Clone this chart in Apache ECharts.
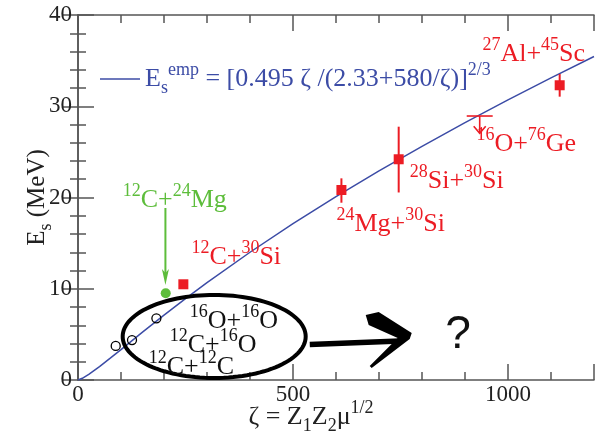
<!DOCTYPE html>
<html>
<head>
<meta charset="utf-8">
<script src="https://cdn.jsdelivr.net/npm/echarts@6/dist/echarts.min.js"></script>
<style>
  html, body { margin: 0; padding: 0; background: #fff; }
  #chart { width: 605px; height: 435px; }
</style>
</head>
<body>
<div id="chart"></div>
<script>
// Empirical barrier curve E_s^emp sampled along zeta
const curveZeta = [0, 10, 25, 50, 75, 100, 125, 150, 200, 250, 300, 400, 500, 600, 700, 800, 900, 1000, 1100, 1200];
const curveEs   = [0, 0.19, 0.62, 1.47, 2.39, 3.33, 4.29, 5.24, 7.10, 8.91, 10.67, 14.00, 17.13, 20.09, 22.92, 25.61, 28.20, 30.70, 33.11, 35.45];

// Light systems (open circles): 12C+12C, 12C+16O, 16O+16O
const lightZeta = [87.7, 125.6, 182.3];
const lightEs   = [3.73, 4.38, 6.76];

// 12C+24Mg (green dot)
const mgZeta = [204];
const mgEs   = [9.5];

// Systems with measured maxima (red squares) and their error bars
const redZeta = [245, 612.6, 745.8, 1120.2];
const redEs   = [10.49, 20.82, 24.19, 32.3];
const redLow  = [null, 19.43, 20.55, 31.05];
const redHigh = [null, 22.10, 27.76, 33.53];

// 16O+76Ge upper limit
const limitZeta = [934.2];
const limitEs   = [28.93];
const limitTip  = [27.03];
const limitHalfWidth = [30.2];

// Green arrow pointing at 12C+24Mg
const greenArrowZeta = [203.3];
const greenArrowFrom = [18.85];
const greenArrowTo   = [10.41];

// Ellipse around the light systems and the arrow leading to "?"
const ellipseCenter = [316.7, 4.77];
const ellipseRadius = [212.8, 4.55];
const shaftZeta = [539, 748];
const shaftEs   = [3.89, 4.27];
const headZeta  = [669.1, 699.3, 776.1, 771.4, 683.0, 678.4, 743.5, 676.0];
const headEs    = [7.12, 7.45, 5.15, 4.49, 1.32, 1.53, 4.60, 6.03];

// Reaction labels (^{..} superscript, _{..} subscript)
const annotationText  = ['^{27}Al+^{45}Sc', '^{16}O+^{76}Ge', '^{28}Si+^{30}Si', '^{24}Mg+^{30}Si', '^{12}C+^{30}Si',
                         '^{12}C+^{24}Mg', '^{16}O+^{16}O', '^{12}C+^{16}O', '^{12}C+^{12}C'];
const annotationZeta  = [940.5, 926.5, 771.4, 601, 263.7, 104, 259.8, 213.3, 164.4];
const annotationEs    = [35.70, 25.84, 21.82, 17.07, 13.46, 19.70, 6.44, 3.85, 1.43];
const annotationGroup = ['red', 'red', 'red', 'red', 'red', 'green', 'black', 'black', 'black'];
const questionZeta = [883.7];
const questionEs   = [4.93];

const legendText = 'E_{s}^{emp} = [0.495 ζ /(2.33+580/ζ)]^{2/3}';
const xTitle = 'ζ = Z_{1}Z_{2}μ^{1/2}';
const yTitle = 'E_{s} (MeV)';

const xMajor = 500, xMinor = 100, xMax = 1200;
const yMajor = 10, yMax = 40;

const BLUE = '#3c4ca6', RED = '#ec1c24', GREEN = '#5dbd3b', INK = '#111';
const SERIF = 'Liberation Serif';
const groupColor = { red: RED, green: GREEN, black: INK };

function toRich(s) {
  const out = [];
  const re = /([\^_])\{([^}]*)\}|([^\^_]+)/g;
  let m;
  while ((m = re.exec(s))) {
    if (m[1] === '^') out.push('{sup|' + m[2] + '}');
    else if (m[1] === '_') out.push('{sub|' + m[2] + '}');
    else out.push('{n|' + m[3] + '}');
  }
  return out.join('');
}

function richStyles(main) {
  return {
    n:   { fontFamily: SERIF, fontSize: main, lineHeight: 36 },
    sup: { fontFamily: SERIF, fontSize: 18, lineHeight: 10, verticalAlign: 'top' },
    sub: { fontFamily: SERIF, fontSize: 18, lineHeight: 10, verticalAlign: 'top', padding: [18, 0, 0, 0] }
  };
}

const axisLineStyle = { color: '#555', width: 1.5 };
const baseX = { type: 'value', min: 0, max: xMax, gridIndex: 0, splitLine: { show: false } };
const baseY = { type: 'value', min: 0, max: yMax, interval: yMajor, gridIndex: 0, splitLine: { show: false } };

const chart = echarts.init(document.getElementById('chart'), null, { renderer: 'canvas' });

chart.setOption({
  animation: false,
  backgroundColor: '#fff',
  grid: { left: 78, right: 11, top: 15, bottom: 55, containLabel: false, outerBoundsMode: 'none' },
  legend: {
    data: ['fit'], left: 100, top: 61, padding: 0, selectedMode: false,
    icon: 'rect', itemWidth: 40, itemHeight: 1.5,
    itemStyle: { color: BLUE },
    formatter: () => toRich(legendText),
    textStyle: { color: BLUE, rich: richStyles(26) }
  },
  xAxis: [
    Object.assign({}, baseX, {
      position: 'bottom', interval: xMajor,
      axisLine: { show: true, lineStyle: axisLineStyle },
      axisTick: { show: true, inside: true, length: 16, lineStyle: axisLineStyle },
      axisLabel: { show: true, interval: 0, margin: 3, color: '#222', fontFamily: SERIF, fontSize: 23,
                   formatter: v => (v % xMajor === 0 ? String(v) : '') },
      name: toRich(xTitle), nameLocation: 'middle', nameGap: 19, nameMoveOverlap: false,
      nameTextStyle: { color: '#222', padding: [0, 50, 0, 0], rich: richStyles(26) }
    }),
    Object.assign({}, baseX, {
      position: 'bottom', interval: xMinor,
      axisLine: { show: false },
      axisTick: { show: true, inside: true, length: 8, lineStyle: axisLineStyle },
      axisLabel: { show: false }
    }),
    Object.assign({}, baseX, {
      position: 'top', interval: xMajor,
      axisLine: { show: true, lineStyle: axisLineStyle },
      axisTick: { show: true, inside: true, length: 16, lineStyle: axisLineStyle },
      axisLabel: { show: false }
    }),
    Object.assign({}, baseX, {
      position: 'top', interval: xMinor,
      axisLine: { show: false },
      axisTick: { show: true, inside: true, length: 8, lineStyle: axisLineStyle },
      axisLabel: { show: false }
    })
  ],
  yAxis: [
    Object.assign({}, baseY, {
      position: 'left',
      axisLine: { show: true, lineStyle: axisLineStyle },
      axisTick: { show: true, inside: true, length: 16, lineStyle: axisLineStyle },
      minorTick: { show: true, splitNumber: 5, length: 8, lineStyle: axisLineStyle },
      axisLabel: { show: true, margin: 6, color: '#222', fontFamily: SERIF, fontSize: 23 },
      name: toRich(yTitle), nameLocation: 'middle', nameGap: 23, nameRotate: 90, nameMoveOverlap: false,
      nameTextStyle: { color: '#222', rich: richStyles(25) }
    }),
    Object.assign({}, baseY, {
      position: 'right',
      axisLine: { show: true, lineStyle: axisLineStyle },
      axisTick: { show: true, inside: true, length: 16, lineStyle: axisLineStyle },
      minorTick: { show: true, splitNumber: 5, length: 8, lineStyle: axisLineStyle },
      axisLabel: { show: false }
    })
  ],
  series: [
    {
      name: 'fit', type: 'line', xAxisIndex: 0, yAxisIndex: 0, z: 2,
      data: curveZeta.map((x, i) => [x, curveEs[i]]),
      symbol: 'none', smooth: false,
      lineStyle: { color: BLUE, width: 1.5 }, itemStyle: { color: BLUE }
    },
    {
      // ellipse grouping the light systems
      type: 'custom', z: 3, silent: true,
      data: [[ellipseCenter[0], ellipseCenter[1], ellipseRadius[0], ellipseRadius[1]]],
      renderItem: (params, api) => {
        const c = api.coord([api.value(0), api.value(1)]);
        const r = api.size([api.value(2), api.value(3)]);
        const pts = [];
        for (let k = 0; k < 120; k++) {
          const t = k / 120 * Math.PI * 2;
          pts.push([c[0] + r[0] * Math.cos(t), c[1] + r[1] * Math.sin(t)]);
        }
        return { type: 'polygon', shape: { points: pts },
                 style: { fill: 'none', stroke: '#000', lineWidth: 4 } };
      }
    },
    {
      // arrow from the ellipse towards "?"
      type: 'custom', z: 3, silent: true,
      data: [[shaftZeta[0], shaftEs[0]]],
      renderItem: (params, api) => {
        const a = api.coord([shaftZeta[0], shaftEs[0]]);
        const b = api.coord([shaftZeta[1], shaftEs[1]]);
        const head = headZeta.map((x, i) => api.coord([x, headEs[i]]));
        return { type: 'group', children: [
          { type: 'line', shape: { x1: a[0], y1: a[1], x2: b[0], y2: b[1] },
            style: { stroke: '#000', lineWidth: 5.5 } },
          { type: 'polygon', shape: { points: head }, style: { fill: '#000' } }
        ] };
      }
    },
    {
      type: 'scatter', z: 4, symbol: 'circle', symbolSize: 9,
      data: lightZeta.map((x, i) => [x, lightEs[i]]),
      itemStyle: { color: 'rgba(0,0,0,0)', borderColor: '#000', borderWidth: 1.3, opacity: 1 }
    },
    {
      type: 'scatter', z: 4, symbol: 'circle', symbolSize: 10,
      data: mgZeta.map((x, i) => [x, mgEs[i]]),
      itemStyle: { color: GREEN, opacity: 1 }
    },
    {
      // error bars
      type: 'custom', z: 4, silent: true,
      data: redZeta.map((x, i) => [x, redLow[i], redHigh[i]]).filter(d => d[1] != null),
      renderItem: (params, api) => {
        const lo = api.coord([api.value(0), api.value(1)]);
        const hi = api.coord([api.value(0), api.value(2)]);
        return { type: 'line', shape: { x1: lo[0], y1: lo[1], x2: hi[0], y2: hi[1] },
                 style: { stroke: RED, lineWidth: 2 } };
      }
    },
    {
      type: 'scatter', z: 5, symbol: 'rect', symbolSize: 10,
      data: redZeta.map((x, i) => [x, redEs[i]]),
      itemStyle: { color: RED, opacity: 1 }
    },
    {
      // upper limit for 16O+76Ge
      type: 'custom', z: 4, silent: true,
      data: limitZeta.map((x, i) => [x, limitEs[i], limitTip[i], limitHalfWidth[i]]),
      renderItem: (params, api) => {
        const x = api.value(0), y = api.value(1);
        const l = api.coord([x - api.value(3), y]);
        const r = api.coord([x + api.value(3), y]);
        const top = api.coord([x, y]);
        const tip = api.coord([x, api.value(2)]);
        const st = { stroke: RED, lineWidth: 1.6, fill: 'none' };
        return { type: 'group', children: [
          { type: 'line', shape: { x1: l[0], y1: l[1], x2: r[0], y2: r[1] }, style: st },
          { type: 'line', shape: { x1: top[0], y1: top[1], x2: tip[0], y2: tip[1] }, style: st },
          { type: 'polyline', shape: { points: [[tip[0] - 6, tip[1] - 7], tip, [tip[0] + 6, tip[1] - 7]] }, style: st }
        ] };
      }
    },
    {
      // green arrow
      type: 'custom', z: 4, silent: true,
      data: greenArrowZeta.map((x, i) => [x, greenArrowFrom[i], greenArrowTo[i]]),
      renderItem: (params, api) => {
        const a = api.coord([api.value(0), api.value(1)]);
        const b = api.coord([api.value(0), api.value(2)]);
        return { type: 'group', children: [
          { type: 'line', shape: { x1: a[0], y1: a[1], x2: b[0], y2: b[1] - 10 },
            style: { stroke: GREEN, lineWidth: 2 } },
          { type: 'polygon', shape: { points: [[b[0] - 3.5, b[1] - 16], [b[0], b[1]], [b[0] + 3.5, b[1] - 16], [b[0], b[1] - 12]] },
            style: { fill: GREEN } }
        ] };
      }
    },
    {
      // reaction labels
      type: 'scatter', z: 6, silent: true, symbolSize: 0,
      itemStyle: { opacity: 1 },
      data: annotationText.map((t, i) => ({
        value: [annotationZeta[i], annotationEs[i]],
        label: { color: groupColor[annotationGroup[i]] }
      })),
      label: {
        show: true, position: 'right', distance: 0,
        formatter: p => toRich(annotationText[p.dataIndex]),
        rich: richStyles(26)
      }
    },
    {
      type: 'scatter', z: 6, silent: true, symbolSize: 0,
      itemStyle: { opacity: 1 },
      data: questionZeta.map((x, i) => [x, questionEs[i]]),
      label: {
        show: true, position: 'inside', formatter: '?',
        color: '#111', fontFamily: 'Liberation Sans', fontSize: 46
      }
    }
  ]
});
</script>
</body>
</html>
